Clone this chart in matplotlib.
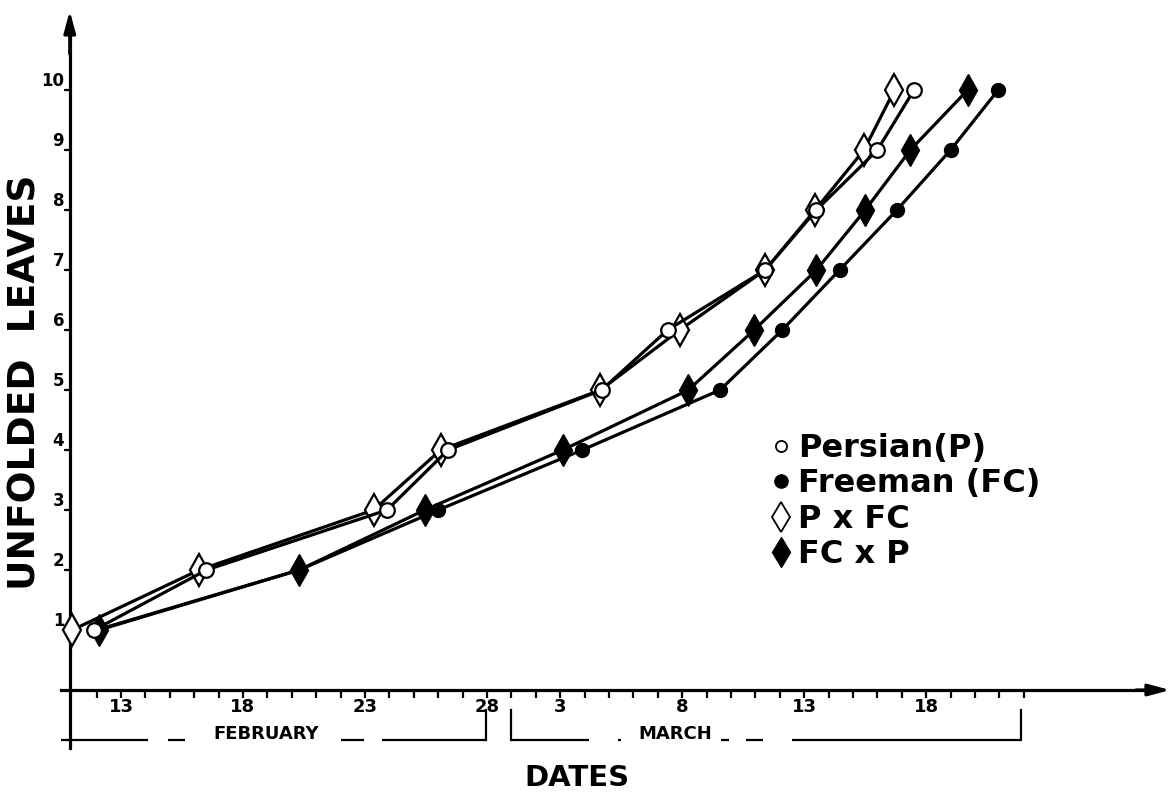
import matplotlib
matplotlib.use('Agg')
import matplotlib.pyplot as plt
from matplotlib.lines import Line2D

# ---- data (day numbering: February d -> d, March d -> 28 + d) ----
leaves = [1, 2, 3, 4, 5, 6, 7, 8, 9, 10]
persian_days = [11.9, 16.5, 23.9, 26.4, 32.7, 35.4, 39.4, 41.5, 44.0, 45.5]
pxfc_days = [11.0, 16.2, 23.35, 26.1, 32.65, 35.9, 39.4, 41.45, 43.45, 44.7]
freeman_days = [12.0, 20.3, 26.0, 31.9, 37.55, 40.1, 42.45, 44.8, 47.0, 48.95]
fcxp_days = [12.1, 20.3, 25.45, 31.1, 36.25, 38.95, 41.5, 43.5, 45.35, 47.7]

major_days = [13, 18, 23, 28, 31, 36, 41, 46]
major_labels = ['13', '18', '23', '28', '3', '8', '13', '18']
minor_days = list(range(12, 51))
y_ticks = [1, 2, 3, 4, 5, 6, 7, 8, 9, 10]

series_labels = ['Persian(P)', 'Freeman (FC)', 'P x FC', 'FC x P']

# ---- figure ----
fig = plt.figure(figsize=(11.74, 7.94), dpi=100)
ax = fig.add_axes([0, 0, 1, 1])
ax.set_xlim(8.041, 56.156)
ax.set_ylim(-1.733, 11.5)

lw = 2.3
FONT = 'DejaVu Sans'

# series (draw order matters for overlap)
ax.plot(freeman_days, leaves, '-', color='black', lw=lw, marker='o', ms=10,
        mfc='black', mec='black', zorder=3)
ax.plot(fcxp_days, leaves, '-', color='black', lw=lw, marker='d', ms=16,
        mfc='black', mec='black', zorder=4)
ax.plot(pxfc_days, leaves, '-', color='black', lw=lw, marker='d', ms=16,
        mfc='white', mec='black', mew=1.6, zorder=5)
ax.plot(persian_days, leaves, '-', color='black', lw=lw, marker='o', ms=10.5,
        mfc='white', mec='black', mew=1.6, zorder=6)

# axes spines
for s in ['top', 'right']:
    ax.spines[s].set_visible(False)
ax.spines['left'].set_position(('data', 10.9))
ax.spines['bottom'].set_position(('data', 0))
ax.spines['left'].set_bounds(-0.97, 11.0)
ax.spines['bottom'].set_bounds(10.55, 55.0)
ax.spines['left'].set_linewidth(lw)
ax.spines['bottom'].set_linewidth(lw)

ax.annotate('', xy=(56.0, 0), xytext=(54.6, 0),
            arrowprops=dict(arrowstyle='-|>,head_length=1.3,head_width=0.35',
                            color='black', lw=lw, shrinkA=0, shrinkB=0))
ax.annotate('', xy=(10.9, 11.32), xytext=(10.9, 10.6),
            arrowprops=dict(arrowstyle='-|>,head_length=1.3,head_width=0.35',
                            color='black', lw=lw, shrinkA=0, shrinkB=0))

# ticks
ax.set_xticks(major_days)
ax.set_xticklabels(major_labels, fontfamily=FONT, fontweight='bold', fontsize=13)
ax.set_xticks([d for d in minor_days if d not in major_days], minor=True)
ax.tick_params(axis='x', which='both', direction='out', length=6, width=1.6, pad=0)
ax.set_yticks(y_ticks)
ax.set_yticklabels([str(v) for v in y_ticks], fontfamily=FONT, fontweight='bold',
                   fontsize=12)
ax.tick_params(axis='y', which='both', direction='out', length=4, width=1.6, pad=0)
for lab in ax.get_yticklabels():
    lab.set_verticalalignment('bottom')

# month brackets below the axis
br_y, br_top = -0.84, -0.34
feb_segments = [(10.55, 14.1), (14.93, 15.62), (22.0, 22.96), (23.7, 27.96)]
mar_segments = [(29.0, 32.2), (33.35, 33.5), (37.6, 37.9), (38.6, 39.3), (40.5, 49.9)]
for a, b in feb_segments + mar_segments:
    ax.plot([a, b], [br_y, br_y], color='black', lw=1.6, clip_on=False,
            solid_capstyle='butt')
for x in [27.96, 29.0, 49.9]:
    ax.plot([x, x], [br_y, br_top], color='black', lw=1.6, clip_on=False)
ax.text(18.95, br_y + 0.03, 'FEBRUARY', ha='center', va='baseline',
        fontfamily=FONT, fontweight='bold', fontsize=13)
ax.text(35.7, br_y + 0.03, 'MARCH', ha='center', va='baseline',
        fontfamily=FONT, fontweight='bold', fontsize=13)

# axis titles
ax.text(31.7, -1.46, 'DATES', ha='center', va='center', fontfamily=FONT,
        fontweight='bold', fontsize=21)
ax.text(26 / 1174, 1 - 382 / 794, 'UNFOLDED  LEAVES', transform=ax.transAxes,
        rotation=90, ha='center', va='center', fontfamily=FONT,
        fontweight='bold', fontsize=27)

# legend
handles = [
    Line2D([], [], ls='none', marker='o', ms=8, mfc='white', mec='black', mew=1.3),
    Line2D([], [], ls='none', marker='o', ms=9.5, mfc='black', mec='black'),
    Line2D([], [], ls='none', marker='d', ms=15, mfc='white', mec='black', mew=1.3),
    Line2D([], [], ls='none', marker='d', ms=15, mfc='black', mec='black'),
]
leg = ax.legend(handles, series_labels, loc='upper left',
                bbox_to_anchor=(771 / 1174, 1 - 433 / 794), frameon=False,
                prop=dict(family=FONT, weight='bold', size=23),
                handlelength=0.65, handletextpad=0.2, labelspacing=0.14,
                borderpad=0, borderaxespad=0)

fig.savefig('out.png', dpi=100, facecolor='white')
